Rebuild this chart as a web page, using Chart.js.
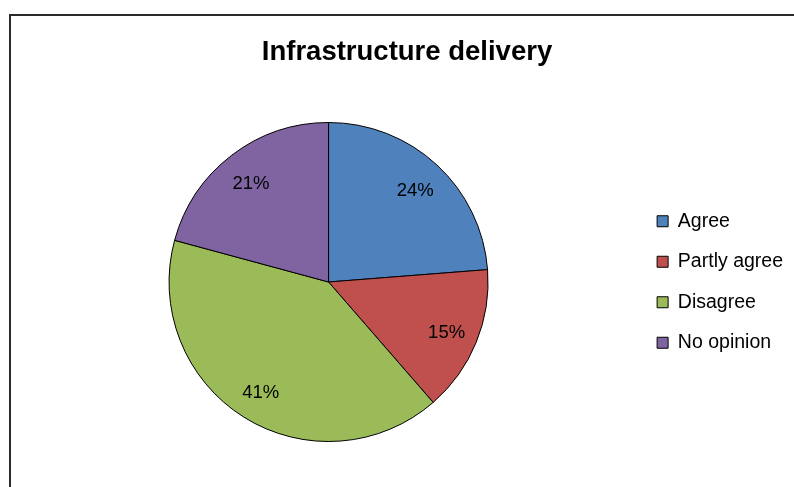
<!DOCTYPE html>
<html>
<head>
<meta charset="utf-8">
<script src="https://cdn.jsdelivr.net/npm/chart.js@4/dist/chart.umd.min.js"></script>
<style>
  html, body { margin: 0; padding: 0; width: 794px; height: 487px; overflow: hidden; background: #fff; }
  #frame { position: absolute; left: 9px; top: 14px; width: 900px; height: 600px; border: 2px solid #2a2a2a; box-sizing: border-box; }
  #c { position: absolute; left: 0; top: 0; }
</style>
</head>
<body>
<div id="frame"></div>
<canvas id="c" width="794" height="487"></canvas>
<script>
const titleText = "Infrastructure delivery";
const categories = ["Agree", "Partly agree", "Disagree", "No opinion"];
const values = [24, 15, 41, 21];
const valueLabels = ["24%", "15%", "41%", "21%"];
const colors = ["#4F81BD", "#C0504D", "#9BBB59", "#8064A2"];

const FONT = "'Liberation Sans', Arial, sans-serif";

const sliceLabels = {
  id: "sliceLabels",
  afterDatasetsDraw(chart) {
    const ctx = chart.ctx;
    const meta = chart.getDatasetMeta(0);
    ctx.save();
    ctx.font = "18.5px " + FONT;
    ctx.fillStyle = "#000";
    ctx.textAlign = "center";
    ctx.textBaseline = "middle";
    meta.data.forEach((arc, i) => {
      const p = arc.getProps(["x", "y", "startAngle", "endAngle", "outerRadius"], true);
      const mid = (p.startAngle + p.endAngle) / 2;
      const r = p.outerRadius * 0.8;
      ctx.fillText(valueLabels[i], p.x + Math.cos(mid) * r, p.y + Math.sin(mid) * r + 3);
    });
    ctx.restore();
  }
};

new Chart(document.getElementById("c"), {
  type: "pie",
  data: {
    labels: categories,
    datasets: [{
      data: values,
      backgroundColor: colors,
      borderColor: "#000",
      borderWidth: 1
    }]
  },
  options: {
    responsive: false,
    devicePixelRatio: 1,
    animation: false,
    layout: { padding: { left: 21, right: 1, top: 0, bottom: 45 } },
    plugins: {
      title: {
        display: true,
        text: titleText,
        color: "#000",
        font: { family: FONT, size: 27.5, weight: "bold" },
        padding: { top: 36, bottom: 53 }
      },
      legend: {
        position: "right",
        fullSize: false,
        labels: {
          boxWidth: 11,
          boxHeight: 11,
          padding: 21,
          color: "#000",
          font: { family: FONT, size: 19.5 },
          generateLabels(chart) {
            return categories.map((c, i) => ({
              text: c,
              fillStyle: colors[i],
              strokeStyle: "#000",
              lineWidth: 1,
              index: i,
              hidden: false
            }));
          }
        }
      },
      tooltip: { enabled: false }
    }
  },
  plugins: [sliceLabels]
});
</script>
</body>
</html>
